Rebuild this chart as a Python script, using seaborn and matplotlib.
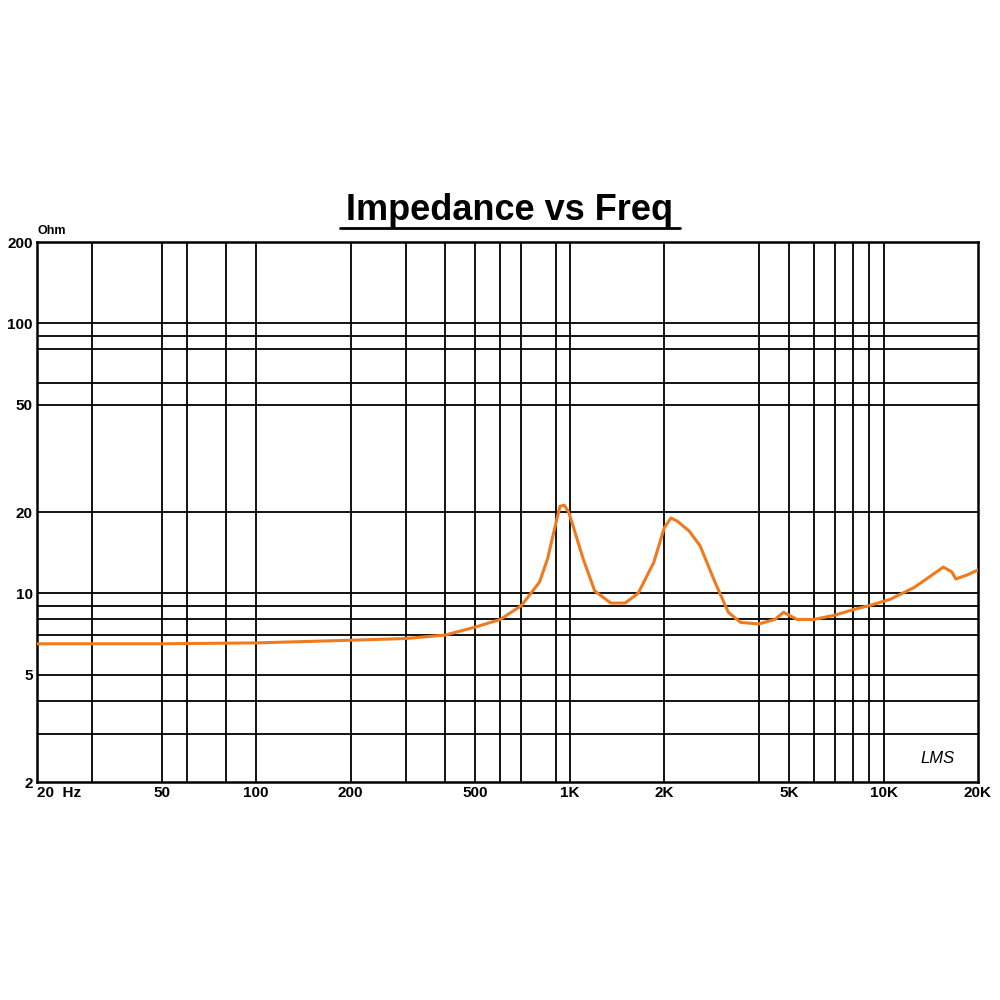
import matplotlib
matplotlib.use("Agg")
import matplotlib.pyplot as plt
import seaborn as sns
import pandas as pd

freq = [20, 50, 100, 200, 300, 400, 500, 600, 700, 800, 850, 900, 930, 960, 990, 1020, 1100, 1200, 1350, 1500,
        1650, 1850, 2000, 2100, 2200, 2400, 2600, 2900, 3200, 3500, 4000, 4500, 4800, 5300, 6000, 7000,
        8000, 9000, 10500, 12500, 14000, 15500, 16500, 17000, 18500, 20000]
imp = [6.5, 6.5, 6.55, 6.7, 6.8, 7.0, 7.5, 8.0, 9.0, 11.0, 13.5, 18.0, 21.0, 21.2, 20.0, 18.0, 13.5, 10.2, 9.2, 9.2,
       10.0, 13.0, 17.5, 19.0, 18.5, 17.0, 15.0, 11.0, 8.5, 7.8, 7.7, 8.0, 8.5, 8.0, 8.0, 8.3,
       8.7, 9.0, 9.5, 10.5, 11.5, 12.5, 12.0, 11.3, 11.7, 12.2]
vgrid = [30, 50, 60, 80, 100, 200, 300, 400, 500, 600, 700, 900, 1000, 2000, 4000, 5000, 6000, 7000, 8000, 9000, 10000]
hgrid = [3, 4, 5, 7, 8, 9, 10, 20, 50, 60, 80, 90, 100]
xticks = [20, 50, 100, 200, 500, 1000, 2000, 5000, 10000, 20000]
xlabels = ["20  Hz", "50", "100", "200", "500", "1K", "2K", "5K", "10K", "20K"]
yticks = [2, 5, 10, 20, 50, 100, 200]

sns.set_style("white")
plt.rcParams['font.family'] = ['Liberation Sans', 'DejaVu Sans']
plt.rcParams['text.color'] = 'black'
plt.rcParams['xtick.color'] = 'black'
plt.rcParams['ytick.color'] = 'black'
fig = plt.figure(figsize=(10, 10), dpi=100)
ax = fig.add_axes([0.037, 0.218, 0.941, 0.540])
df = pd.DataFrame({"f": freq, "z": imp})
ax.set_xscale("log"); ax.set_yscale("log")
for v in vgrid:
    ax.axvline(v, color="black", lw=1.3, zorder=1)
for h in hgrid:
    ax.axhline(h, color="black", lw=1.3, zorder=1)
sns.lineplot(data=df, x="f", y="z", ax=ax, color="#f07a1e", lw=2.2, zorder=3)
ax.set_xlim(20, 20000); ax.set_ylim(2, 200)
ax.set_xticks(xticks); ax.set_xticklabels(xlabels, fontsize=11, fontweight="bold")
ax.get_xticklabels()[0].set_ha("left")
ax.set_yticks(yticks); ax.set_yticklabels([str(y) for y in yticks], fontsize=11, fontweight="bold")
ax.minorticks_off()
ax.tick_params(length=0, pad=3)
ax.set_xlabel(""); ax.set_ylabel("")
for s in ax.spines.values():
    s.set_color("black"); s.set_linewidth(1.8)
ax.text(0.0, 1.01, "Ohm", transform=ax.transAxes, fontsize=9, fontweight="bold", ha="left", va="bottom")
ax.text(0.975, 0.03, "LMS", transform=ax.transAxes, fontsize=12, style="italic", ha="right", va="bottom")
fig.text(0.51, 0.79, "Impedance vs Freq", ha="center", va="center", fontsize=26, fontweight="bold")
fig.add_artist(plt.Line2D([0.34, 0.68], [0.772, 0.772], color="black", lw=2))
fig.savefig("out.png")
